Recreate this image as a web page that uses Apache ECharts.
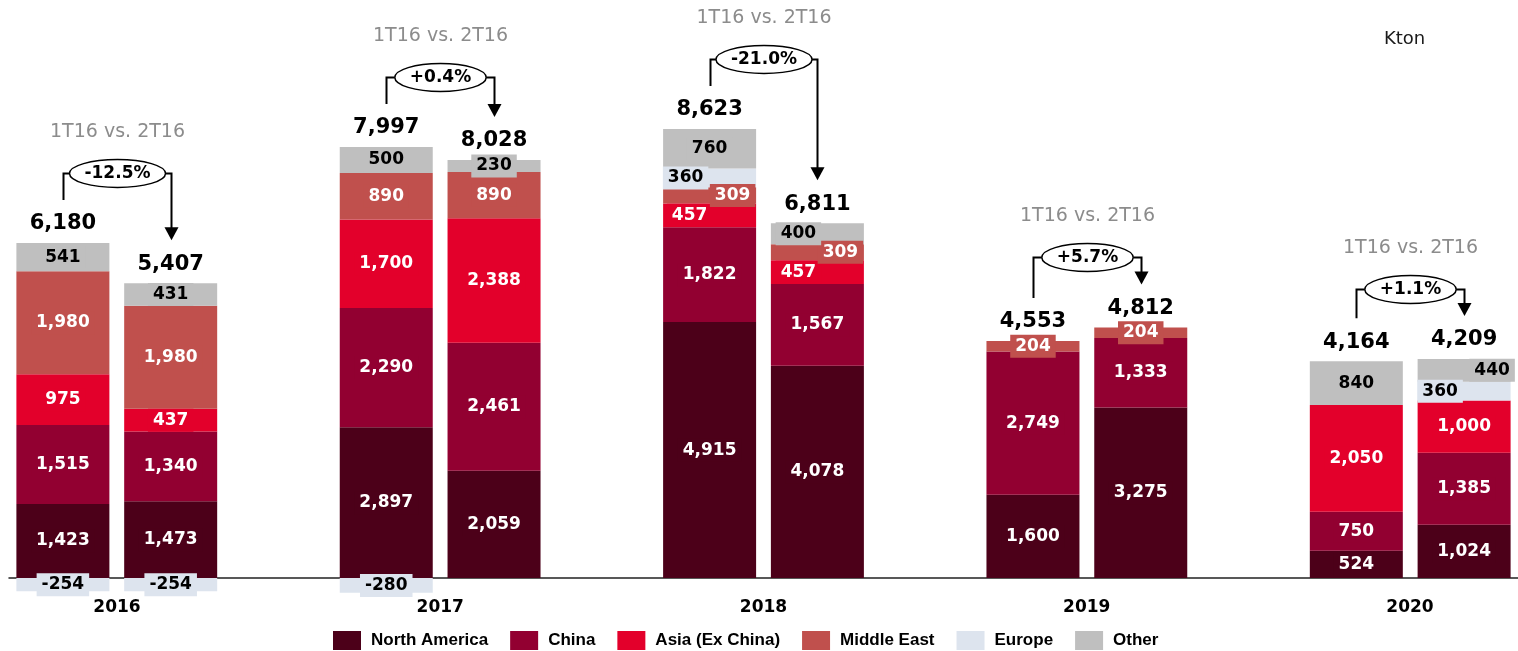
<!DOCTYPE html>
<html><head><meta charset="utf-8">
<script src="https://cdn.jsdelivr.net/npm/echarts@6/dist/echarts.min.js"></script>
<style>html,body{margin:0;padding:0;background:#fff}#c{width:1518px;height:651px}</style>
</head><body><div id="c"></div>
<script>
// ---------- DATA ----------
const years = ['2016', '2017', '2018', '2019', '2020'];
const halves = ['1T', '2T'];
const seriesNames = ['North America', 'China', 'Asia (Ex China)', 'Middle East', 'Europe', 'Other'];
// order per year: first bar, second bar
const northAmerica = [1423, 1473, 2897, 2059, 4915, 4078, 1600, 3275, 524, 1024];
const china        = [1515, 1340, 2290, 2461, 1822, 1567, 2749, 1333, 750, 1385];
const asiaExChina  = [975, 437, 1700, 2388, 457, 457, 0, 0, 2050, 1000];
const middleEast   = [1980, 1980, 890, 890, 309, 309, 204, 204, 0, 0];
const europe       = [-254, -254, -280, 0, 360, 0, 0, 0, 0, 360];
const other        = [541, 431, 500, 230, 760, 400, 0, 0, 840, 440];
const compareTitle = '1T16 vs. 2T16';
const unitLabel = 'Kton';

// ---------- STYLE ----------
const colors = ['#4C0019', '#920031', '#E3002B', '#C0504D', '#DDE4EE', '#BFBFBF'];
const labelColors = ['#fff', '#fff', '#fff', '#fff', '#000', '#000'];
// horizontal label nudges (px) by series index -> bar index
const labelShift = {2: {4: -20, 5: -19}, 3: {4: 23, 5: 23}, 4: {4: -24, 9: -24}, 5: {5: -19, 9: 28}};
const FONT = '"DejaVu Sans", Verdana, sans-serif';

const values = [northAmerica, china, asiaExChina, middleEast, europe, other];
const nBars = northAmerica.length;
// categories: per year [1T, 2T] separated by a gap slot
const categories = [];
years.forEach((y, i) => {
  categories.push(y + ' ' + halves[0], y + ' ' + halves[1]);
  if (i < years.length - 1) categories.push(y + ' ');
});
const catIndex = k => Math.floor(k / 2) * 3 + (k % 2);

const totals = [], posTops = [];
for (let k = 0; k < nBars; k++) {
  let t = 0, p = 0;
  values.forEach(a => { t += a[k]; if (a[k] > 0) p += a[k]; });
  totals.push(t); posTops.push(p);
}
const fmt = v => Number(v).toLocaleString('en-US');

const barSeries = seriesNames.map((name, s) => {
  const data = categories.map(() => null);
  for (let k = 0; k < nBars; k++) {
    const v = values[s][k];
    if (!v) continue;
    const item = {value: v};
    const sh = labelShift[s] && labelShift[s][k];
    if (sh) item.label = {offset: [sh, 0]};
    data[catIndex(k)] = item;
  }
  return {
    name, type: 'bar', stack: 'total', barWidth: 93, data,
    itemStyle: {color: colors[s]},
    label: {
      show: true, position: 'inside', color: labelColors[s],
      fontFamily: FONT, fontWeight: 'bold', fontSize: 17,
      backgroundColor: colors[s], padding: [3, 5],
      formatter: p => (p.value == null ? '' : fmt(p.value))
    },
    emphasis: {disabled: true}
  };
});

const compareData = years.map((y, i) => [i * 3, posTops[2 * i], posTops[2 * i + 1], totals[2 * i], totals[2 * i + 1]]);

const mctx = document.createElement('canvas').getContext('2d');
const pctFont = 'bold 17px ' + FONT;
const totalFont = 'bold 21px ' + FONT;
function measure(t) { mctx.font = pctFont; return mctx.measureText(t).width; }
function txtEl(x, y, text, font, fill) {
  return {type: 'text', x: x, y: y, style: {text: text, font: font, fill: fill, align: 'center', verticalAlign: 'middle', textAlign: 'center', textVerticalAlign: 'middle'}};
}

const chart = echarts.init(document.getElementById('c'), null, {renderer: 'canvas'});
chart.setOption({
  animation: false,
  backgroundColor: '#fff',
  title: {text: unitLabel, left: 1379, top: 25, textStyle: {fontFamily: FONT, fontWeight: 'normal', fontSize: 18, color: '#1a1a1a'}},
  legend: {
    data: seriesNames, left: 333, top: 631, padding: 0, icon: 'rect', itemWidth: 28, itemHeight: 19, itemGap: 22,
    textStyle: {fontFamily: '"Liberation Sans", Arial, sans-serif', fontWeight: 'bold', fontSize: 17, color: '#000', padding: [0, 0, 0, 5]},
    selectedMode: false
  },
  grid: [
    {left: 9, top: 0, right: 0, bottom: 0, containLabel: false},
    {left: 117, top: 0, right: 108, bottom: 73, containLabel: false}
  ],
  xAxis: [
    {type: 'category', gridIndex: 0, data: categories, boundaryGap: true,
     axisLine: {show: true, onZero: true, lineStyle: {color: '#222', width: 1.5}},
     axisTick: {show: false}, axisLabel: {show: false}, splitLine: {show: false}},
    {type: 'category', gridIndex: 1, data: years, boundaryGap: false, position: 'bottom',
     axisLine: {show: false, onZero: false}, axisTick: {show: false}, splitLine: {show: false},
     axisLabel: {show: true, interval: 0, margin: 21, color: '#000', fontFamily: FONT, fontWeight: 'bold', fontSize: 17}}
  ],
  yAxis: [
    {type: 'value', gridIndex: 0, min: -1400, max: 11100, show: false, splitLine: {show: false}},
    {type: 'value', gridIndex: 1, min: 0, max: 1, show: false, splitLine: {show: false}}
  ],
  series: barSeries.concat([
    {
      name: 'compare', type: 'custom', data: compareData, silent: true, z: 6,
      encode: {x: 0, y: 1},
      renderItem: function (params, api) {
        const c = api.value(0), lt = api.value(1), rt = api.value(2), tl = api.value(3), tr = api.value(4);
        const pL = api.coord([c, lt]);
        const pR = api.coord([c + 1, rt]);
        const xL = Math.round(pL[0]) + 0.5, xR = Math.round(pR[0]) + 0.5, xc = (xL + xR) / 2;
        const yTop = Math.round(Math.min(pL[1], pR[1]) - 70) + 0.5;
        const pct = (tr / tl - 1) * 100;
        const txt = (pct >= 0 ? '+' : '') + pct.toFixed(1) + '%';
        const rx = (measure(txt) + 30) / 2, ry = 14;
        const yL = pL[1] - 43, yR = pR[1] - 43;
        const ls = {stroke: '#000', lineWidth: 2, fill: null};
        return {type: 'group', children: [
          txtEl(pL[0], pL[1] - 19, fmt(tl), totalFont, '#000'),
          txtEl(pR[0], pR[1] - 19, fmt(tr), totalFont, '#000'),
          {type: 'polyline', shape: {points: [[xL, yL], [xL, yTop], [xc - rx, yTop]]}, style: ls},
          {type: 'polyline', shape: {points: [[xc + rx, yTop], [xR, yTop], [xR, yR - 12]]}, style: ls},
          {type: 'polygon', shape: {points: [[xR - 7, yR - 13], [xR + 7, yR - 13], [xR, yR]]}, style: {fill: '#000'}},
          {type: 'ellipse', shape: {cx: xc, cy: yTop, rx: rx, ry: ry}, style: {fill: '#fff', stroke: '#000', lineWidth: 1.5}},
          txtEl(xc, yTop, txt, pctFont, '#000'),
          txtEl(xc, yTop - 41, compareTitle, '19px ' + FONT, '#8c8c8c')
        ]};
      }
    }
  ])
});
</script>
</body></html>
